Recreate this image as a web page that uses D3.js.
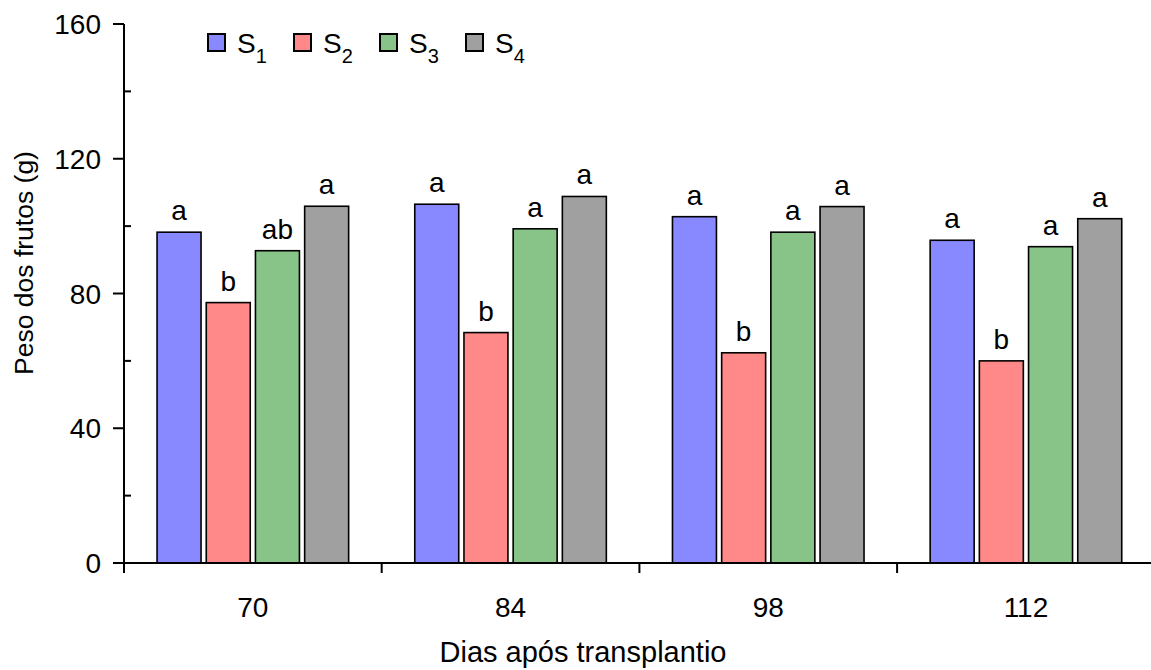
<!DOCTYPE html>
<html>
<head>
<meta charset="utf-8">
<script src="https://cdn.jsdelivr.net/npm/d3@7"></script>
<style>
  html, body { margin: 0; padding: 0; background: #fff; }
  svg { display: block; font-family: "Liberation Sans", Arial, sans-serif; }
</style>
</head>
<body>
<svg id="chart" width="1151" height="670"></svg>
<script>
// Days after transplanting (groups)
const days = ["70", "84", "98", "112"];
// Substrates
const series = ["S1", "S2", "S3", "S4"];
const seriesSub = ["1", "2", "3", "4"];
// Fruit weight (g) per substrate, one value per day
const s1 = [98.2, 106.5, 102.8, 95.8];
const s2 = [77.3, 68.4, 62.4, 60.0];
const s3 = [92.7, 99.2, 98.2, 93.9];
const s4 = [105.9, 108.8, 105.8, 102.2];
// Significance letters, same layout as the values
const l1 = ["a", "a", "a", "a"];
const l2 = ["b", "b", "b", "b"];
const l3 = ["ab", "a", "a", "a"];
const l4 = ["a", "a", "a", "a"];
const yTicks = [0, 40, 80, 120, 160];
const yMinorTicks = [20, 60, 100, 140];
const colors = ["#8888ff", "#ff8888", "#88c488", "#a0a0a0"];

const values = [s1, s2, s3, s4];
const letters = [l1, l2, l3, l4];

const svg = d3.select("#chart");

const x0 = 124, yBottom = 563, yTop = 24;
const groupW = 257.7;

const x = d3.scaleBand().domain(days).range([x0, x0 + groupW * days.length]).paddingInner(0).paddingOuter(0);
const xs = d3.scaleBand().domain(series).range([0, x.bandwidth()]).paddingInner(0.106).paddingOuter(0.672);
const y = d3.scaleLinear().domain([0, 160]).range([yBottom, yTop]);

// Bars
const rows = [];
days.forEach((d, i) => series.forEach((s, j) => rows.push({ day: d, s, j, v: values[j][i], lab: letters[j][i] })));

svg.append("g").selectAll("rect").data(rows).join("rect")
  .attr("x", r => x(r.day) + xs(r.s))
  .attr("y", r => y(r.v))
  .attr("width", xs.bandwidth())
  .attr("height", r => y(0) - y(r.v))
  .attr("fill", r => colors[r.j])
  .attr("stroke", "#000")
  .attr("stroke-width", 1.6);

// Letters above the bars
svg.append("g").selectAll("text").data(rows).join("text")
  .attr("x", r => x(r.day) + xs(r.s) + xs.bandwidth() / 2)
  .attr("y", r => y(r.v) - 12)
  .attr("text-anchor", "middle")
  .attr("font-size", 28)
  .attr("fill", "#000")
  .text(r => r.lab);

// Y axis
const yAxis = svg.append("g").attr("transform", `translate(${x0},0)`);
yAxis.append("line").attr("x1", 0).attr("x2", 0).attr("y1", y(0) + 10).attr("y2", y(160))
  .attr("stroke", "#000").attr("stroke-width", 2);
yAxis.selectAll(".maj").data(yTicks).join("line").attr("class", "maj")
  .attr("x1", -11).attr("x2", 0).attr("y1", d => y(d)).attr("y2", d => y(d))
  .attr("stroke", "#000").attr("stroke-width", 2);
yAxis.selectAll(".min").data(yMinorTicks).join("line").attr("class", "min")
  .attr("x1", 0).attr("x2", 7).attr("y1", d => y(d)).attr("y2", d => y(d))
  .attr("stroke", "#000").attr("stroke-width", 2);
yAxis.selectAll("text").data(yTicks).join("text")
  .attr("x", -23).attr("y", d => y(d)).attr("dy", "0.36em")
  .attr("text-anchor", "end").attr("font-size", 28).attr("fill", "#000")
  .text(d => d);

// X axis
const xAxis = svg.append("g");
xAxis.append("line").attr("x1", x0 - 11).attr("x2", 1151).attr("y1", y(0)).attr("y2", y(0))
  .attr("stroke", "#000").attr("stroke-width", 2);
const bounds = days.map(d => x(d)).concat([x.range()[1]]);
xAxis.selectAll(".tk").data(bounds).join("line").attr("class", "tk")
  .attr("x1", d => d).attr("x2", d => d).attr("y1", y(0)).attr("y2", y(0) + 10)
  .attr("stroke", "#000").attr("stroke-width", 2);
xAxis.selectAll("text").data(days).join("text")
  .attr("x", d => x(d) + x.bandwidth() / 2).attr("y", 617)
  .attr("text-anchor", "middle").attr("font-size", 28).attr("fill", "#000")
  .text(d => d);

// Axis titles
svg.append("text").attr("x", 583).attr("y", 662).attr("text-anchor", "middle")
  .attr("font-size", 29).attr("fill", "#000").text("Dias após transplantio");
svg.append("text").attr("transform", "translate(33,263) rotate(-90)").attr("text-anchor", "middle")
  .attr("font-size", 26.5).attr("fill", "#000").text("Peso dos frutos (g)");

// Legend
const leg = svg.append("g").selectAll("g").data(series).join("g")
  .attr("transform", (d, i) => `translate(${208 + i * 86},34)`);
leg.append("rect").attr("width", 17).attr("height", 17)
  .attr("fill", (d, i) => colors[i]).attr("stroke", "#000").attr("stroke-width", 2);
const lt = leg.append("text").attr("x", 29).attr("y", 19).attr("font-size", 28).attr("fill", "#000");
lt.append("tspan").text("S");
lt.append("tspan").attr("dy", 10).attr("font-size", 20).text((d, i) => seriesSub[i]);
</script>
</body>
</html>
